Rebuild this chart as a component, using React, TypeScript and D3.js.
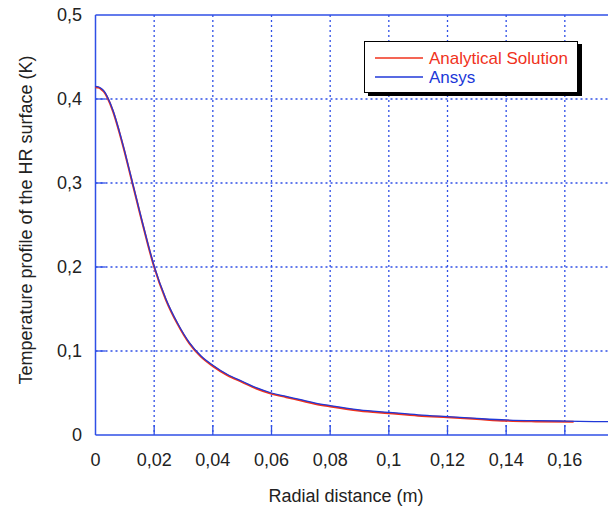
import React from "react";
import * as d3 from "d3";

const radial = [0, 0.001, 0.002, 0.003, 0.004, 0.006, 0.008, 0.010, 0.012, 0.014, 0.016, 0.018, 0.020, 0.024, 0.028, 0.032, 0.036, 0.040, 0.045, 0.050, 0.055, 0.060, 0.065, 0.070, 0.075, 0.080, 0.090, 0.100, 0.110, 0.120, 0.130, 0.140, 0.150, 0.160, 0.170, 0.180];
const ansys = [0.415, 0.4145, 0.4125, 0.409, 0.403, 0.386, 0.363, 0.337, 0.309, 0.281, 0.253, 0.226, 0.201, 0.162, 0.133, 0.110, 0.094, 0.083, 0.072, 0.064, 0.056, 0.050, 0.046, 0.042, 0.038, 0.035, 0.030, 0.027, 0.024, 0.0218, 0.0197, 0.0179, 0.0170, 0.0166, 0.0160, 0.0156];
const analyticalR = [0, 0.001, 0.002, 0.003, 0.004, 0.006, 0.008, 0.010, 0.012, 0.014, 0.016, 0.018, 0.020, 0.024, 0.028, 0.032, 0.036, 0.040, 0.045, 0.050, 0.055, 0.060, 0.065, 0.070, 0.075, 0.080, 0.090, 0.100, 0.110, 0.120, 0.130, 0.140, 0.150, 0.163];
const analytical = [0.414, 0.4135, 0.4115, 0.408, 0.402, 0.385, 0.362, 0.336, 0.308, 0.280, 0.252, 0.225, 0.200, 0.161, 0.132, 0.109, 0.093, 0.082, 0.071, 0.063, 0.055, 0.049, 0.045, 0.041, 0.037, 0.034, 0.029, 0.026, 0.023, 0.021, 0.019, 0.017, 0.0162, 0.0158];

const xTicks = [0, 0.02, 0.04, 0.06, 0.08, 0.1, 0.12, 0.14, 0.16];
const yTicks = [0, 0.1, 0.2, 0.3, 0.4, 0.5];
const seriesNames = ["Analytical Solution", "Ansys"];

const W = 608;
const H = 508;
const FONT = "'Liberation Sans', Arial, sans-serif";
const AXIS = "#2f4fe6";
const BLUE = "#2038d8";
const RED = "#f0321c";

const fmt = (v: number) => String(v).replace(".", ",");

export default function App() {
  const x = d3.scaleLinear().domain([0, 0.18]).range([95.5, 623.5]);
  const y = d3.scaleLinear().domain([0, 0.5]).range([435, 15]);
  const line = d3
    .line<[number, number]>()
    .x((d) => x(d[0]))
    .y((d) => y(d[1]))
    .curve(d3.curveMonotoneX);
  const blueData = radial.map((r, i) => [r, ansys[i]] as [number, number]);
  const redData = analyticalR.map((r, i) => [r, analytical[i]] as [number, number]);
  const x0 = x(0);
  const yb = y(0);
  const yt = y(0.5);

  return (
    <svg width={W} height={H} style={{ position: "absolute", left: 0, top: 0, background: "#fff" }} fontFamily={FONT}>
      {/* vertical grid */}
      {xTicks.filter((t) => t > 0).map((t) => (
        <g key={"vx" + t}>
          <line x1={x(t)} x2={x(t)} y1={yt} y2={yb} stroke={AXIS} strokeWidth={1.3} strokeDasharray="2,3" />
          <line x1={x(t)} x2={x(t)} y1={yb} y2={yb - 10} stroke={AXIS} strokeWidth={1.3} />
        </g>
      ))}
      {/* horizontal grid */}
      {yTicks.filter((t) => t > 0 && t < 0.5).map((t) => (
        <g key={"hy" + t}>
          <line x1={x0} x2={W} y1={y(t)} y2={y(t)} stroke={AXIS} strokeWidth={1.3} strokeDasharray="2,3" />
          <line x1={x0} x2={x0 + 10} y1={y(t)} y2={y(t)} stroke={AXIS} strokeWidth={1.3} />
        </g>
      ))}
      {/* axes frame */}
      <line x1={x0} x2={W} y1={yt} y2={yt} stroke={AXIS} strokeWidth={1.5} />
      <line x1={x0} x2={W} y1={yb} y2={yb} stroke={AXIS} strokeWidth={1.5} />
      <line x1={x0} x2={x0} y1={yt} y2={yb} stroke={AXIS} strokeWidth={1.5} />

      {/* curves */}
      <path d={line(redData) || ""} fill="none" stroke={RED} strokeWidth={2} />
      <path d={line(blueData) || ""} fill="none" stroke={BLUE} strokeWidth={1.3} />

      {/* tick labels */}
      {yTicks.map((t) => (
        <text key={"yl" + t} x={82} y={y(t) + 6} textAnchor="end" fontSize={18} fill="#222">
          {fmt(t)}
        </text>
      ))}
      {xTicks.map((t) => (
        <text key={"xl" + t} x={x(t)} y={466} textAnchor="middle" fontSize={18} fill="#222">
          {fmt(t)}
        </text>
      ))}

      {/* axis titles */}
      <text x={346} y={502} textAnchor="middle" fontSize={18} fill="#222">
        Radial distance (m)
      </text>
      <text transform="translate(32,220) rotate(-90)" textAnchor="middle" fontSize={18} fill="#222">
        Temperature profile of the HR surface (K)
      </text>

      {/* legend */}
      <rect x={368} y={44} width={214} height={52} fill="#000" />
      <rect x={364.5} y={41.5} width={213} height={51} fill="#fff" stroke="#000" strokeWidth={1} />
      <line x1={375} x2={423} y1={58} y2={58} stroke={RED} strokeWidth={1.5} />
      <line x1={375} x2={423} y1={77} y2={77} stroke={BLUE} strokeWidth={1.5} />
      <text x={429} y={64} fontSize={17} fill={RED}>{seriesNames[0]}</text>
      <text x={429} y={83} fontSize={17} fill={BLUE}>{seriesNames[1]}</text>
    </svg>
  );
}
